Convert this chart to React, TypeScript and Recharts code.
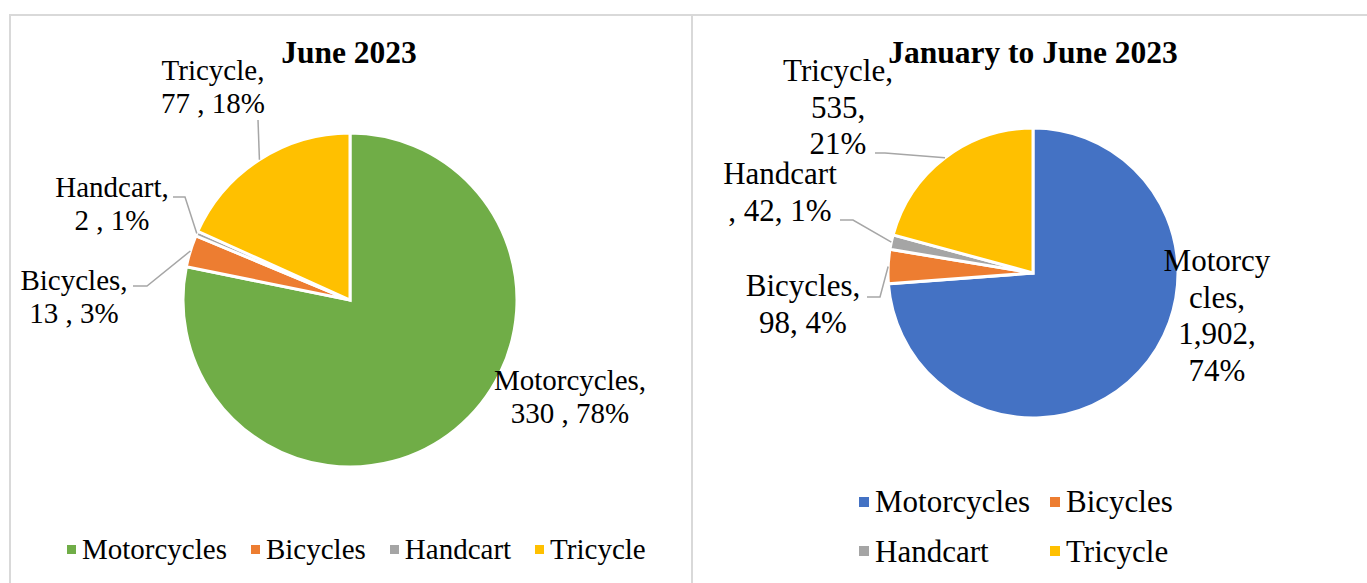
import { PieChart, Pie, Cell, Legend } from "recharts";

const categories = ["Motorcycles", "Bicycles", "Handcart", "Tricycle"];
const juneCounts = [330, 13, 2, 77];
const junePercents = [78, 3, 1, 18];
const halfYearCounts = [1902, 98, 42, 535];
const halfYearPercents = [74, 4, 1, 21];

const juneColors = ["#70AD47", "#ED7D31", "#A5A5A5", "#FFC000"];
const halfYearColors = ["#4472C4", "#ED7D31", "#A5A5A5", "#FFC000"];

const FONT = '"Liberation Serif", "Times New Roman", serif';
const BORDER = "#D9D9D9";
const LEADER = "#A6A6A6";

type Spot = {
  x: number; // text centre, relative to the pie centre
  y: number; // first baseline, relative to the pie centre
  lines: (name: string, value: string, pct: number) => string[];
  leader?: [number, number][];
};

// label placement (Excel "best fit" look), offsets from the pie centre
const juneSpots: Spot[] = [
  { x: 220, y: 90, lines: (n, v, p) => [`${n},`, `${v} , ${p}%`] },
  { x: -276, y: -10, lines: (n, v, p) => [`${n},`, `${v} , ${p}%`], leader: [[-203, -14], [-217, -14]] },
  { x: -238, y: -103, lines: (n, v, p) => [`${n},`, `${v} , ${p}%`], leader: [[-165, -103], [-177, -103]] },
  { x: -137, y: -220, lines: (n, v, p) => [`${n},`, `${v} , ${p}%`], leader: [[-92, -180]] },
];

const halfYearSpots: Spot[] = [
  { x: 184, y: -2, lines: (n, v, p) => [n.slice(0, 7), `${n.slice(7)},`, `${v},`, `${p}%`] },
  { x: -230, y: 23, lines: (n, v, p) => [`${n},`, `${v}, ${p}%`], leader: [[-153, 24], [-166, 24]] },
  { x: -253, y: -89, lines: (n, v, p) => [n, `, ${v}, ${p}%`], leader: [[-180, -53], [-193, -53]] },
  { x: -195, y: -192, lines: (n, v, p) => [`${n},`, `${v},`, `${p}%`], leader: [[-148, -120], [-158, -120]] },
];

function makeLabel(spots: Spot[], percents: number[], fontSize: number, lineHeight: number) {
  return (props: any) => {
    const { cx, cy, midAngle, outerRadius, index, value } = props;
    const spot = spots[index];
    const rad = (Math.PI / 180) * midAngle;
    const ex = cx + outerRadius * Math.cos(rad);
    const ey = cy - outerRadius * Math.sin(rad);
    const lines = spot.lines(categories[index], Number(value).toLocaleString("en-US"), percents[index]);
    const pts = spot.leader
      ? [[ex, ey], ...spot.leader.map(([x, y]) => [cx + x, cy + y])].map((p) => p.join(",")).join(" ")
      : null;
    return (
      <g key={`lbl-${index}`}>
        {pts && <polyline points={pts} fill="none" stroke={LEADER} strokeWidth={1.5} />}
        <text x={cx + spot.x} y={cy + spot.y} textAnchor="middle" fontFamily={FONT} fontSize={fontSize} fill="#000">
          {lines.map((l, i) => (
            <tspan key={i} x={cx + spot.x} dy={i === 0 ? 0 : lineHeight}>
              {l}
            </tspan>
          ))}
        </text>
      </g>
    );
  };
}

function LegendRow({ payload, fontSize, marker, gap, columns }: any) {
  const items = (payload || [])
    .map((e: any) => ({ label: String(e.value), color: e.color }))
    .sort((a: any, b: any) => categories.indexOf(a.label) - categories.indexOf(b.label));
  return (
    <div
      style={{
        display: columns ? "grid" : "flex",
        gridTemplateColumns: columns,
        columnGap: columns ? 0 : gap,
        rowGap: 14,
        fontFamily: FONT,
        fontSize,
        lineHeight: 1.15,
        color: "#000",
      }}
    >
      {items.map((it: any) => (
        <div key={it.label} style={{ display: "flex", alignItems: "center", whiteSpace: "nowrap" }}>
          <span style={{ width: marker, height: marker, background: it.color, marginRight: 6, display: "inline-block" }} />
          {it.label}
        </div>
      ))}
    </div>
  );
}

const juneData = categories.map((name, i) => ({ name, value: juneCounts[i], fill: juneColors[i] }));
const halfYearData = categories.map((name, i) => ({ name, value: halfYearCounts[i], fill: halfYearColors[i] }));

const titleStyle: React.CSSProperties = {
  position: "absolute",
  fontFamily: FONT,
  fontWeight: "bold",
  fontSize: 31.5,
  lineHeight: "31px",
  whiteSpace: "nowrap",
  transform: "translateX(-50%)",
  color: "#000",
};

export default function App() {
  return (
    <div style={{ position: "absolute", left: 0, top: 0, width: 1367, height: 583, background: "#fff", overflow: "hidden" }}>
      <div style={{ position: "absolute", left: 9, top: 14, width: 680, height: 600, border: `2px solid ${BORDER}` }} />
      <div style={{ position: "absolute", left: 689, top: 14, width: 700, height: 600, borderTop: `2px solid ${BORDER}` }} />

      <div style={{ position: "absolute", left: 0, top: 0 }}>
        <PieChart width={690} height={583} margin={{ top: 0, right: 0, bottom: 0, left: 0 }}>
          <Pie
            data={juneData}
            dataKey="value"
            nameKey="name"
            cx={350}
            cy={300}
            outerRadius={167}
            startAngle={90}
            endAngle={-270}
            stroke="#fff"
            strokeWidth={3}
            labelLine={false}
            label={makeLabel(juneSpots, junePercents, 29, 33)}
            isAnimationActive={false}
          >
            {juneData.map((d) => (
              <Cell key={d.name} fill={d.fill} />
            ))}
          </Pie>
          <Legend
            wrapperStyle={{ left: 67, top: 533, width: 620 }}
            content={(p: any) => <LegendRow payload={p.payload} fontSize={29} marker={9} gap={24} />}
          />
        </PieChart>
      </div>

      <div style={{ position: "absolute", left: 690, top: 0 }}>
        <PieChart width={677} height={583} margin={{ top: 0, right: 0, bottom: 0, left: 0 }}>
          <Pie
            data={halfYearData}
            dataKey="value"
            nameKey="name"
            cx={343}
            cy={273}
            outerRadius={145}
            startAngle={90}
            endAngle={-270}
            stroke="#fff"
            strokeWidth={3}
            labelLine={false}
            label={makeLabel(halfYearSpots, halfYearPercents, 31, 36.5)}
            isAnimationActive={false}
          >
            {halfYearData.map((d) => (
              <Cell key={d.name} fill={d.fill} />
            ))}
          </Pie>
          <Legend
            wrapperStyle={{ left: 169, top: 484, width: 420 }}
            content={(p: any) => <LegendRow payload={p.payload} fontSize={31} marker={10} columns="191px auto" />}
          />
        </PieChart>
      </div>

      <div style={{ ...titleStyle, left: 349, top: 37 }}>June 2023</div>
      <div style={{ ...titleStyle, left: 1033, top: 37 }}>January to June 2023</div>
    </div>
  );
}
